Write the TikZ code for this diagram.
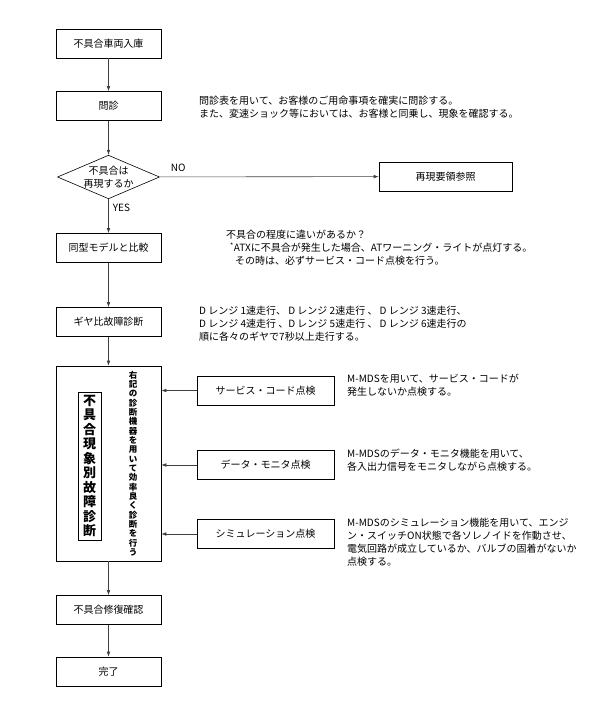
\documentclass[tikz,border=0pt]{standalone}
\usepackage{fontspec}
\setmainfont{Noto Sans CJK JP}
\usetikzlibrary{arrows.meta,shapes.geometric}

\tikzset{
	stepbox/.style={draw,line width=0.6pt,minimum width=105pt,minimum height=29pt,inner sep=0},
	sidebox/.style={stepbox,minimum width=137pt},
	desc/.style={align=left,anchor=west,inner sep=0,font=\fontsize{10}{13}\selectfont},
	flow/.style={draw=black!75,line width=0.6pt,-{Latex[length=5pt,width=3.6pt]}},
	tag/.style={inner sep=0,font=\fontsize{10}{12}\selectfont}
}

\begin{document}
\begin{tikzpicture}[x=1pt,y=-1pt,font=\fontsize{10}{12}\selectfont]
\useasboundingbox (0,0) rectangle (598,718);

% main column
\node[stepbox] (nyuko) at (108.5,43.5) {不具合車両入庫};
\node[stepbox] (monshin) at (108.5,106) {問診};
\node[diamond,draw,line width=0.6pt,aspect=2.34,inner sep=0,align=center,
	font=\fontsize{10}{13}\selectfont] (saigen) at (108.5,177) {不具合は\\再現するか};
\node[stepbox,minimum width=133pt] (saigenref) at (445.5,176.5) {再現要領参照};
\node[stepbox] (hikaku) at (108.5,248) {同型モデルと比較};
\node[stepbox] (gear) at (108.5,322) {ギヤ比故障診断};

% diagnosis frame
\node[draw,line width=0.6pt,minimum width=105pt,minimum height=195pt,inner sep=0] (shindan) at (108.5,463.5) {};
\node[draw,line width=0.9pt,minimum width=23pt,minimum height=148pt,inner sep=0,align=center,
	font=\fontsize{13}{14.5}\selectfont\bfseries] (genshou) at (89.5,466)
	{不\\具\\合\\現\\象\\別\\故\\障\\診\\断};
\node[inner sep=0,align=center,font=\fontsize{8.5}{9.35}\selectfont\bfseries] (kiki) at (133,463.5)
	{右\\記\\の\\診\\断\\機\\器\\を\\用\\い\\て\\効\\率\\良\\く\\診\\断\\を\\行\\う};

% tools
\node[sidebox] (service) at (265.5,390.5) {サービス・コード点検};
\node[sidebox] (datamon) at (265.5,465) {データ・モニタ点検};
\node[sidebox] (simu) at (265.5,534) {シミュレーション点検};

\node[stepbox] (kakunin) at (108.5,610) {不具合修復確認};
\node[stepbox] (kanryo) at (108.5,671.5) {完了};

% notes
\node[desc] (monshin-t) at (199,107.5) {問診表を用いて、お客様のご用命事項を確実に問診する。\\
	また、変速ショック等においては、お客様と同乗し、現象を確認する。};
\node[desc] (hikaku-t) at (226,248) {不具合の程度に違いがあるか？\\
	\hspace*{4pt}\textsuperscript{*}ATXに不具合が発生した場合、ATワーニング・ライトが点灯する。\\
	\hspace*{9pt}その時は、必ずサービス・コード点検を行う。};
\node[desc] (gear-t) at (199,324) {D レンジ 1速走行、 D レンジ 2速走行 、 D レンジ 3速走行、\\
	D レンジ 4速走行 、D レンジ 5速走行 、 D レンジ 6速走行の\\
	順に各々のギヤで7秒以上走行する。};
\node[desc] (service-t) at (347,385.5) {M-MDSを用いて、サービス・コードが\\
	発生しないか点検する。};
\node[desc] (datamon-t) at (347,460.5) {M-MDSのデータ・モニタ機能を用いて、\\
	各入出力信号をモニタしながら点検する。};
\node[desc] (simu-t) at (347,542) {M-MDSのシミュレーション機能を用いて、エンジ\\
	ン・スイッチON状態で各ソレノイドを作動させ、\\
	電気回路が成立しているか、バルブの固着がないか\\
	点検する。};

% connectors
\draw[flow] (nyuko) -- (monshin);
\draw[flow] (monshin) -- (saigen);
\draw[flow] (saigen) -- node[tag,pos=0,anchor=south west,xshift=11pt,yshift=5pt] {NO} (saigenref);
\draw[flow] (saigen) -- node[tag,pos=0,anchor=north west,xshift=4pt,yshift=-5pt] {YES} (hikaku);
\draw[flow] (hikaku) -- (gear);
\draw[flow] (gear) -- (shindan);
\foreach \tool in {service,datamon,simu}
	\draw[flow] (\tool.west) -- (\tool.west -| shindan.east);
\draw[flow] (shindan) -- (kakunin);
\draw[flow] (kakunin) -- (kanryo);
\end{tikzpicture}
\end{document}
